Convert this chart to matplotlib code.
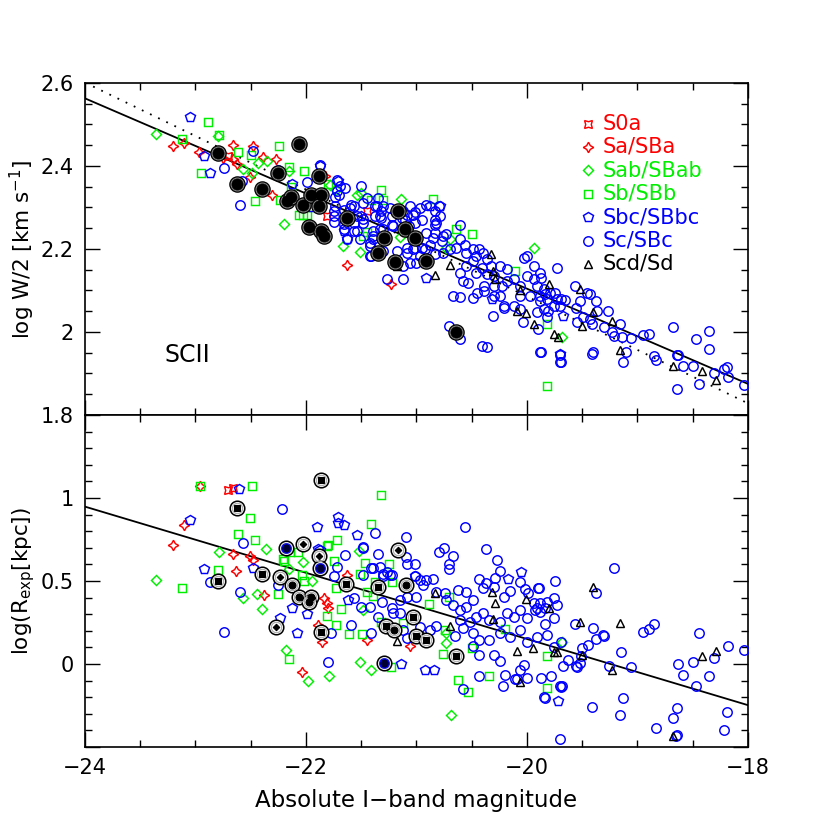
import matplotlib
matplotlib.use('Agg')
import matplotlib.pyplot as plt
from matplotlib.ticker import MultipleLocator, FuncFormatter

plt.rcParams['font.family'] = ['DejaVu Sans']

# ---------------- DATA ----------------
# fit lines (endpoints at M = -24 and -18)
fit_x = [-24.0, -18.0]
fit_top_solid = [2.563, 1.875]
fit_top_dotted = [2.601, 1.828]
fit_bot_solid = [0.948, -0.248]

legend_labels = ['S0a', 'Sa/SBa', 'Sab/SBab', 'Sb/SBb', 'Sbc/SBbc', 'Sc/SBc', 'Scd/Sd']

# ---- top panel: (M_I, log W/2) ----
s0a_top = [(-22.71, 2.425), (-21.81, 2.279), (-21.45, 2.291)]
sa_top = [(-23.206, 2.449), (-23.10, 2.455), (-22.966, 2.434), (-22.664, 2.451), (-22.66, 2.417),
          (-22.627, 2.406), (-22.477, 2.447), (-22.274, 2.418), (-22.39, 2.422), (-22.51, 2.373),
          (-22.305, 2.331), (-21.83, 2.375), (-21.627, 2.161), (-21.234, 2.115), (-22.75, 2.42)]
sab_top = [(-23.357, 2.476), (-22.80, 2.472), (-22.356, 2.411), (-22.432, 2.407), (-22.574, 2.393),
           (-22.49, 2.383), (-22.199, 2.261), (-21.669, 2.207), (-21.51, 2.193), (-21.78, 2.355),
           (-21.73, 2.343), (-21.54, 2.329), (-21.505, 2.335), (-21.14, 2.321), (-20.73, 2.203),
           (-20.70, 2.223), (-19.937, 2.203), (-19.686, 1.989), (-22.15, 2.387), (-21.15, 2.23)]
sb_top = [(-22.884, 2.506), (-23.125, 2.465), (-22.79, 2.475), (-22.613, 2.434), (-22.50, 2.427),
          (-22.244, 2.449), (-22.954, 2.383), (-22.46, 2.315), (-22.154, 2.397), (-22.015, 2.389),
          (-22.235, 2.319), (-22.06, 2.281), (-22.027, 2.281), (-21.99, 2.281), (-21.325, 2.341),
          (-21.41, 2.317), (-21.30, 2.317), (-20.855, 2.321), (-20.50, 2.235), (-20.64, 2.249),
          (-20.11, 2.148), (-19.82, 2.019), (-19.816, 1.869), (-21.48, 2.231), (-21.45, 2.241),
          (-21.80, 2.357), (-21.84, 2.237), (-22.14, 2.35)]
sbc_top = [(-23.05, 2.518), (-22.92, 2.423), (-22.866, 2.382), (-22.124, 2.357), (-21.87, 2.401),
           (-21.708, 2.363), (-20.88, 2.303), (-21.50, 2.279), (-20.91, 2.131), (-21.66, 2.243),
           (-21.63, 2.225), (-20.79, 2.303), (-20.32, 2.079), (-19.67, 2.039), (-19.70, 1.947),
           (-21.95, 2.30)]
sc_top = [(-22.483, 2.437), (-22.745, 2.395), (-22.58, 2.363), (-22.595, 2.305), (-21.994, 2.362),
          (-22.25, 2.391), (-21.72, 2.367), (-21.647, 2.347), (-21.5, 2.353), (-21.72, 2.339),
          (-21.74, 2.326), (-21.70, 2.331), (-21.89, 2.307), (-21.74, 2.303), (-21.66, 2.293),
          (-21.60, 2.299), (-21.54, 2.279), (-21.48, 2.273), (-21.36, 2.303), (-21.30, 2.303),
          (-21.33, 2.279), (-21.225, 2.279), (-21.21, 2.255), (-21.10, 2.271), (-21.03, 2.283),
          (-20.91, 2.305), (-20.80, 2.303), (-21.42, 2.215), (-21.39, 2.231), (-21.33, 2.247),
          (-21.54, 2.243), (-21.75, 2.265), (-21.66, 2.261), (-21.42, 2.183), (-21.30, 2.195),
          (-21.18, 2.195), (-21.09, 2.203), (-21.01, 2.203), (-20.92, 2.199), (-20.82, 2.263),
          (-20.83, 2.239), (-21.873, 2.403),
          (-21.69, 2.351), (-21.59, 2.307), (-21.75, 2.279), (-21.75, 2.291), (-21.57, 2.303),
          (-21.48, 2.311), (-21.45, 2.323), (-21.38, 2.303), (-21.35, 2.323), (-21.32, 2.291),
          (-21.38, 2.279), (-21.32, 2.275), (-21.24, 2.299), (-21.30, 2.247), (-21.39, 2.243),
          (-21.39, 2.223), (-21.22, 2.259), (-21.13, 2.275), (-21.12, 2.291), (-21.09, 2.283),
          (-21.06, 2.303), (-21.01, 2.289), (-21.07, 2.255), (-21.01, 2.263), (-20.97, 2.299),
          (-20.95, 2.271), (-20.83, 2.291), (-20.83, 2.271), (-20.83, 2.259), (-20.79, 2.279),
          (-20.91, 2.239), (-20.85, 2.227), (-20.76, 2.231), (-20.73, 2.235), (-20.77, 2.219),
          (-20.88, 2.209), (-20.95, 2.203), (-21.03, 2.199), (-21.09, 2.191), (-21.06, 2.167),
          (-21.00, 2.167), (-20.97, 2.183), (-20.83, 2.187), (-20.76, 2.191), (-20.70, 2.199),
          (-20.64, 2.203), (-20.61, 2.223), (-20.56, 2.209), (-20.55, 2.191), (-20.49, 2.199),
          (-20.43, 2.199), (-20.46, 2.183), (-20.40, 2.191), (-20.36, 2.175), (-20.33, 2.159),
          (-20.49, 2.171), (-20.55, 2.159), (-20.61, 2.143), (-20.58, 2.123), (-20.53, 2.119),
          (-20.46, 2.143), (-20.41, 2.155), (-20.36, 2.139), (-20.30, 2.135), (-20.24, 2.159),
          (-20.18, 2.151), (-20.18, 2.123), (-20.23, 2.111), (-20.30, 2.111), (-20.39, 2.111),
          (-20.45, 2.095), (-20.39, 2.099), (-20.30, 2.087), (-20.24, 2.087), (-20.12, 2.127),
          (-20.06, 2.111), (-20.00, 2.135), (-19.94, 2.127), (-20.03, 2.179), (-20.00, 2.183),
          (-19.94, 2.159), (-19.88, 2.143), (-19.91, 2.111), (-19.85, 2.103), (-19.79, 2.095),
          (-19.73, 2.079), (-19.70, 2.063), (-19.76, 2.063), (-19.82, 2.079), (-19.88, 2.087),
          (-19.97, 2.087), (-20.06, 2.087), (-20.12, 2.063), (-20.21, 2.063), (-20.06, 2.055),
          (-19.91, 2.047), (-20.49, 2.083), (-21.12, 2.127), (-21.27, 2.127), (-21.41, 2.183),
          (-21.42, 2.207), (-21.51, 2.223), (-21.57, 2.243), (-21.48, 2.263), (-21.57, 2.263),
          (-21.66, 2.247), (-21.63, 2.223), (-21.12, 2.159), (-19.73, 2.155), (-20.61, 2.257),
          (-20.71, 2.015), (-20.61, 1.983), (-20.41, 1.967), (-20.36, 1.965), (-19.87, 1.951),
          (-19.70, 1.944), (-19.70, 1.927), (-20.67, 2.087), (-20.61, 2.085), (-20.31, 2.039),
          (-20.21, 2.059), (-20.04, 2.023), (-19.90, 2.007),
          (-19.565, 2.111), (-19.46, 2.095), (-19.43, 2.091), (-19.52, 2.075), (-19.375, 2.075),
          (-19.84, 2.091), (-19.75, 2.095), (-19.69, 2.079), (-19.66, 2.077), (-19.56, 2.057),
          (-19.55, 2.023), (-19.49, 2.035), (-19.43, 2.031), (-19.41, 2.019), (-19.37, 2.051),
          (-19.27, 2.051), (-19.30, 2.011), (-19.16, 2.019), (-19.23, 1.999), (-19.21, 1.991),
          (-19.14, 1.989), (-19.06, 1.985), (-19.10, 1.951), (-19.13, 1.927), (-19.41, 1.947),
          (-19.40, 1.951), (-18.95, 1.993), (-18.90, 1.995), (-18.85, 1.941), (-18.83, 1.933),
          (-18.68, 2.013), (-18.645, 1.945), (-18.63, 1.945), (-18.585, 1.917), (-18.495, 1.917),
          (-18.645, 1.863), (-18.44, 1.875), (-18.47, 1.983), (-18.35, 2.003), (-18.35, 1.959),
          (-18.31, 1.901), (-18.22, 1.911), (-18.186, 1.916), (-18.18, 1.891), (-18.035, 1.873),
          (-19.88, 1.951), (-19.87, 2.131), (-19.69, 1.927), (-19.82, 2.035), (-19.81, 2.051),
          (-19.85, 2.055), (-19.88, 2.075)]
scd_top = [(-21.18, 2.158), (-20.833, 2.137), (-20.70, 2.161), (-20.326, 2.187), (-20.305, 2.147),
           (-20.29, 2.127), (-20.063, 2.101), (-20.09, 2.051), (-20.01, 2.045), (-19.94, 2.019),
           (-19.805, 2.115), (-19.76, 1.995), (-19.72, 1.989), (-19.52, 2.103), (-19.40, 2.049),
           (-19.505, 2.015), (-19.234, 2.027), (-19.16, 1.957), (-18.676, 1.919), (-18.42, 1.907),
           (-18.29, 1.885)]
hl_top = [(-22.80, 2.431), (-22.624, 2.357), (-22.40, 2.345), (-22.257, 2.382), (-22.061, 2.453),
          (-21.879, 2.377), (-22.175, 2.315), (-22.14, 2.326), (-22.03, 2.307), (-21.955, 2.331),
          (-21.864, 2.331), (-21.879, 2.303), (-21.97, 2.253), (-21.864, 2.243), (-21.834, 2.231),
          (-21.632, 2.274), (-21.165, 2.292), (-21.29, 2.227), (-21.10, 2.247), (-21.014, 2.227),
          (-21.346, 2.19), (-21.195, 2.169), (-20.914, 2.17), (-20.64, 1.999)]

# ---- bottom panel: (M_I, log R_exp) ----
s0a_bot = [(-22.71, 1.048), (-22.66, 1.063)]
sa_bot = [(-23.206, 0.716), (-23.107, 0.840), (-22.955, 1.074), (-22.66, 0.665), (-22.51, 0.648),
          (-22.48, 0.629), (-22.63, 0.561), (-22.38, 0.415), (-21.84, 0.395), (-21.81, 0.369),
          (-21.80, 0.335), (-21.89, 0.235), (-21.855, 0.132), (-22.04, -0.05), (-21.63, 0.539),
          (-21.45, 0.146), (-21.06, 0.106), (-21.29, 0.225)]
sab_bot = [(-23.357, 0.509), (-22.79, 0.674), (-22.36, 0.695), (-22.57, 0.395), (-22.44, 0.421),
           (-22.395, 0.329), (-22.024, 0.614), (-22.15, 0.575), (-22.177, 0.086), (-21.98, -0.104),
           (-21.95, 0.499), (-21.52, 0.680), (-21.48, 0.325), (-21.51, 0.010), (-21.41, -0.038),
           (-21.79, -0.070), (-20.73, 0.125), (-20.69, -0.307), (-19.68, 0.135), (-20.73, 0.186)]
sb_bot = [(-22.955, 1.074), (-22.49, 1.072), (-22.51, 0.878), (-22.613, 0.784), (-22.46, 0.744),
          (-23.122, 0.455), (-22.80, 0.565), (-22.82, 0.50), (-22.25, 0.421), (-22.15, 0.03),
          (-22.145, 0.674), (-22.07, 0.674), (-22.21, 0.635), (-22.20, 0.621), (-22.04, 0.535),
          (-22.015, 0.499), (-21.81, 0.291), (-21.81, 0.708), (-21.32, 1.020), (-21.41, 0.844),
          (-21.80, 0.714), (-21.72, 0.748), (-21.75, 0.621), (-21.73, 0.455), (-21.68, 0.329),
          (-21.73, 0.235), (-21.61, 0.181), (-21.49, 0.181), (-21.47, 0.609), (-21.38, 0.495),
          (-21.25, 0.605), (-21.22, 0.491), (-21.12, 0.249), (-20.74, 0.205), (-20.76, 0.062),
          (-20.62, -0.098), (-20.53, -0.170), (-20.34, -0.074), (-20.20, 0.209), (-19.82, -0.144),
          (-21.51, 0.545), (-21.45, 0.435), (-21.39, 0.411), (-21.32, 0.251), (-21.23, -0.018),
          (-20.71, 0.401), (-20.50, 0.096), (-20.89, 0.359), (-19.82, 0.046)]
sbc_bot = [(-23.053, 0.868), (-22.61, 1.056), (-22.92, 0.571), (-22.478, 0.581), (-22.235, 0.279),
           (-22.124, 0.339), (-21.994, 0.299), (-22.08, 0.189), (-21.9, 0.824), (-21.89, 0.694),
           (-21.87, 0.685), (-21.71, 0.888), (-21.71, 0.850), (-21.66, 0.838), (-21.54, 0.780),
           (-20.05, 0.555), (-20.17, 0.515), (-21.14, 0.002), (-20.92, -0.034), (-20.84, -0.034),
           (-19.72, -0.220), (-21.62, 0.385), (-21.01, 0.529)]
sc_bot = [(-22.867, 0.495), (-22.574, 0.728), (-22.6, 0.435), (-22.74, 0.193), (-22.22, 0.934),
          (-22.257, 0.475), (-21.80, 0.01), (-21.375, 0.788), (-21.095, 0.764), (-20.56, 0.824),
          (-20.80, 0.674), (-20.75, 0.700), (-20.67, 0.649), (-20.37, 0.694), (-20.71, 0.601),
          (-20.71, 0.575), (-20.27, 0.629), (-20.24, 0.561), (-19.75, 0.501), (-21.65, 0.659),
          (-21.48, 0.704), (-21.35, 0.664), (-21.41, 0.581), (-21.33, 0.585), (-21.24, 0.535),
          (-21.30, 0.529), (-21.095, 0.645), (-21.01, 0.601), (-20.97, 0.505), (-20.91, 0.509),
          (-20.85, 0.515), (-20.94, 0.475), (-20.82, 0.435), (-20.74, 0.425), (-20.62, 0.445),
          (-20.55, 0.435), (-20.49, 0.385), (-20.43, 0.515), (-20.37, 0.485), (-20.40, 0.455),
          (-20.30, 0.465), (-20.21, 0.405), (-20.15, 0.441), (-20.06, 0.495), (-20.02, 0.449),
          (-19.99, 0.425), (-19.90, 0.455), (-19.94, 0.365), (-19.88, 0.365), (-19.82, 0.375),
          (-19.76, 0.395), (-19.73, 0.355), (-20.73, 0.385), (-20.67, 0.355), (-20.61, 0.325),
          (-20.55, 0.345), (-20.61, 0.265), (-20.52, 0.255), (-20.46, 0.285), (-20.40, 0.305),
          (-20.34, 0.265), (-20.24, 0.255), (-20.18, 0.305), (-20.12, 0.285), (-20.06, 0.325),
          (-20.00, 0.275), (-19.91, 0.335), (-19.84, 0.335), (-19.76, 0.275), (-20.24, 0.185),
          (-20.15, 0.165), (-20.06, 0.205), (-20.00, 0.135), (-19.91, 0.165), (-19.82, 0.175),
          (-19.76, 0.105), (-19.69, 0.135), (-20.58, 0.215), (-20.49, 0.185), (-20.43, 0.145),
          (-20.34, 0.145), (-20.49, 0.106), (-20.65, 0.166), (-20.97, 0.225), (-20.88, 0.205),
          (-20.82, 0.229), (-20.97, 0.166), (-21.09, 0.156), (-21.12, 0.205), (-21.15, 0.385),
          (-21.09, 0.405), (-21.00, 0.405), (-21.15, 0.305), (-21.22, 0.335), (-21.31, 0.375),
          (-21.35, 0.285), (-21.42, 0.345), (-21.41, 0.185), (-21.59, 0.235), (-21.50, 0.345),
          (-21.77, 0.185), (-20.43, 0.056), (-20.30, 0.056), (-20.24, 0.016), (-20.20, -0.064),
          (-20.06, -0.034), (-20.03, -0.004), (-19.87, -0.084), (-19.70, -0.134), (-19.84, -0.204),
          (-20.00, -0.084), (-20.11, -0.090), (-20.58, -0.148), (-20.22, -0.130), (-19.70, -0.453),
          (-19.21, 0.581), (-19.89, 0.459), (-18.95, 0.195), (-18.90, 0.209), (-18.85, 0.241),
          (-18.44, 0.189), (-18.18, 0.110), (-18.04, 0.082), (-18.63, 0.000), (-18.59, -0.064),
          (-18.50, 0.012), (-18.47, -0.134), (-18.35, -0.070), (-18.31, 0.036), (-18.19, -0.29),
          (-18.22, -0.399), (-18.64, -0.264), (-18.68, -0.326), (-18.64, -0.429), (-18.65, -0.433),
          (-18.83, -0.383), (-19.16, -0.308), (-19.13, -0.204), (-19.41, -0.258), (-19.38, 0.425),
          (-19.31, 0.175), (-19.38, 0.149), (-19.50, 0.096), (-19.45, 0.116), (-19.51, 0.046),
          (-19.52, 0.006), (-19.63, 0.026), (-19.56, -0.014), (-19.67, -0.014), (-19.78, -0.074),
          (-19.68, -0.130), (-19.69, -0.138), (-20.43, -0.070), (-20.09, -0.090), (-19.84, 0.239),
          (-19.88, 0.315), (-19.93, 0.325), (-20.29, 0.519), (-19.55, -0.018), (-19.06, -0.018),
          (-19.26, -0.014), (-19.40, 0.216), (-19.30, 0.169), (-19.566, 0.24), (-19.15, 0.075),
          (-19.85, -0.2), (-21.48, 0.700), (-21.30, 0.545), (-21.39, 0.580), (-21.27, 0.554),
          (-21.72, 0.584), (-21.75, 0.529), (-21.48, 0.535), (-21.22, 0.535), (-21.09, 0.604),
          (-21.01, 0.529), (-21.57, 0.395), (-21.21, 0.305)]
scd_bot = [(-20.833, 0.425), (-20.32, 0.435), (-20.29, 0.369), (-20.305, 0.269), (-20.01, 0.389),
           (-19.805, 0.335), (-20.70, 0.229), (-21.18, 0.141), (-20.09, 0.08), (-19.95, 0.096),
           (-19.76, 0.075), (-19.73, 0.075), (-20.06, -0.11), (-19.40, 0.461), (-19.52, 0.255),
           (-19.16, 0.245), (-19.505, 0.056), (-19.234, -0.038), (-18.42, 0.05), (-18.29, 0.081),
           (-18.676, -0.434)]
hl_bot_sq = [(-22.624, 0.938), (-22.80, 0.499), (-22.40, 0.545), (-21.86, 0.195), (-21.864, 1.108),
             (-21.64, 0.481), (-21.346, 0.461), (-21.03, 0.285), (-21.275, 0.229), (-21.0, 0.171),
             (-20.914, 0.145), (-20.643, 0.05)]
hl_bot_dm = [(-22.27, 0.225), (-22.03, 0.725), (-21.88, 0.649), (-22.235, 0.525), (-21.17, 0.689)]
hl_bot_ci = [(-22.13, 0.473), (-22.06, 0.401), (-21.955, 0.405), (-21.97, 0.375), (-21.095, 0.475),
             (-21.2, 0.205)]
hl_bot_bl = [(-22.177, 0.70), (-21.87, 0.581), (-21.29, 0.006)]

# ---------------- STYLE ----------------
RED, GREEN, BLUE, BLACK = '#ff0000', '#00ee00', '#0000ff', '#000000'
mk = {
    'S0a': dict(marker=(4, 1, 45), color=RED, ms=8),
    'Sa': dict(marker=(4, 1, 0), color=RED, ms=7.5),
    'Sab': dict(marker='D', color=GREEN, ms=4.8),
    'Sb': dict(marker='s', color=GREEN, ms=5.4),
    'Sbc': dict(marker='p', color=BLUE, ms=7.2),
    'Sc': dict(marker='o', color=BLUE, ms=6.8),
    'Scd': dict(marker='^', color=BLACK, ms=5.8),
}
keys = ['S0a', 'Sa', 'Sab', 'Sb', 'Sbc', 'Sc', 'Scd']


def xy(pts):
    return [p[0] for p in pts], [p[1] for p in pts]


def scat(ax, pts, key, z=3):
    s = mk[key]
    xs, ys = xy(pts)
    ax.plot(xs, ys, linestyle='none', marker=s['marker'], ms=s['ms'], mfc='none',
            mec=s['color'], mew=1.05, zorder=z)


fig = plt.figure(figsize=(8.3, 8.3), dpi=100)
ax1 = fig.add_axes([0.1024, 0.5, 0.7988, 0.4])
ax2 = fig.add_axes([0.1024, 0.1, 0.7988, 0.4])

fmt = FuncFormatter(lambda v, p: ('%g' % round(v, 3)).replace('-', '\u2212'))

for ax in (ax1, ax2):
    ax.set_xlim(-24, -18)
    ax.xaxis.set_major_locator(MultipleLocator(2))
    ax.xaxis.set_minor_locator(MultipleLocator(0.5))
    ax.tick_params(which='both', direction='in', top=True, right=True, width=1.0)
    ax.tick_params(which='major', length=11, labelsize=15, pad=8)
    ax.tick_params(which='minor', length=5)
    for sp in ax.spines.values():
        sp.set_linewidth(1.2)

# ---------- top panel ----------
ax1.set_ylim(1.8, 2.6)
ax1.yaxis.set_major_locator(MultipleLocator(0.2))
ax1.yaxis.set_minor_locator(MultipleLocator(0.05))
ax1.yaxis.set_major_formatter(fmt)
ax1.tick_params(axis='x', labelbottom=False)

ax1.plot(fit_x, fit_top_solid, color='black', lw=1.3, zorder=2)
ax1.plot(fit_x, fit_top_dotted, color='black', lw=1.3, linestyle=(0, (1, 4)), zorder=2)

for pts, k in [(s0a_top, 'S0a'), (sa_top, 'Sa'), (sab_top, 'Sab'), (sb_top, 'Sb'),
               (sbc_top, 'Sbc'), (sc_top, 'Sc'), (scd_top, 'Scd')]:
    scat(ax1, pts, k)
hx, hy = xy(hl_top)
ax1.plot(hx, hy, linestyle='none', marker='o', ms=11, mfc='#808080', mec='black', mew=0.9, zorder=4)
ax1.plot(hx, hy, linestyle='none', marker='o', ms=8, mfc='black', mec='black', mew=0.5, zorder=5)

ax1.set_ylabel('log W/2 [km s$^{-1}$]', fontsize=15.5)
ax1.yaxis.set_label_coords(-0.072, 0.5)
ax1.text(0.12, 0.18, 'SCII', transform=ax1.transAxes, fontsize=17, va='center', ha='left')

# legend
for i, (k, lab) in enumerate(zip(keys, legend_labels)):
    yy = 0.878 - i * 0.0705
    s = mk[k]
    ax1.plot([0.759], [yy], transform=ax1.transAxes, linestyle='none', marker=s['marker'],
             ms=s['ms'], mfc='none', mec=s['color'], mew=1.05, clip_on=False, zorder=6)
    ax1.text(0.781, yy, lab, transform=ax1.transAxes, color=s['color'], fontsize=15,
             va='center', ha='left', zorder=6)

# ---------- bottom panel ----------
ax2.set_ylim(-0.5, 1.5)
ax2.yaxis.set_major_locator(MultipleLocator(0.5))
ax2.yaxis.set_minor_locator(MultipleLocator(0.1))
ax2.yaxis.set_major_formatter(FuncFormatter(
    lambda v, p: '' if (v < -0.4 or v > 1.4) else ('%g' % round(v, 3))))
ax2.xaxis.set_major_formatter(fmt)

ax2.plot(fit_x, fit_bot_solid, color='black', lw=1.3, zorder=2)

for pts, k in [(s0a_bot, 'S0a'), (sa_bot, 'Sa'), (sab_bot, 'Sab'), (sb_bot, 'Sb'),
               (sbc_bot, 'Sbc'), (sc_bot, 'Sc'), (scd_bot, 'Scd')]:
    scat(ax2, pts, k)

allhl = hl_bot_sq + hl_bot_dm + hl_bot_ci + hl_bot_bl
hx, hy = xy(allhl)
ax2.plot(hx, hy, linestyle='none', marker='o', ms=10.5, mfc='white', mec='black', mew=1.1, zorder=4)
ax2.plot(hx, hy, linestyle='none', marker='o', ms=7.5, mfc='none', mec='#aaaaaa', mew=0.8, zorder=4)
for pts, m, ms_, fc, ec in [(hl_bot_sq, 's', 3.8, 'black', 'black'),
                            (hl_bot_dm, 'D', 3.3, 'black', 'black'),
                            (hl_bot_ci, 'o', 5.0, 'black', 'black'),
                            (hl_bot_bl, 'o', 6.8, '#000033', BLUE)]:
    px, py = xy(pts)
    ax2.plot(px, py, linestyle='none', marker=m, ms=ms_, mfc=fc, mec=ec, mew=0.8, zorder=5)

ax2.set_ylabel('log(R$_{\\rm exp}$[kpc])', fontsize=15.5)
ax2.yaxis.set_label_coords(-0.072, 0.5)
ax2.set_xlabel('Absolute I\u2212band magnitude', fontsize=16.5, labelpad=8)

fig.savefig('out.png', dpi=100)
